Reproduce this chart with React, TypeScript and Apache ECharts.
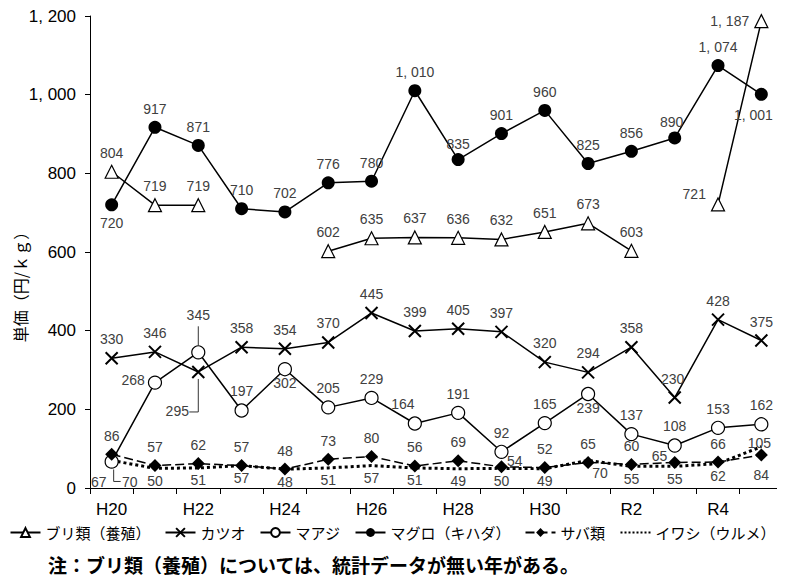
import React, { useEffect, useRef } from "react";
import * as echarts from "echarts";

const categories = ["H20","H21","H22","H23","H24","H25","H26","H27","H28","H29","H30","R1","R2","R3","R4","R5"];
const buri = [804,719,719,null,null,602,635,637,636,632,651,673,603,null,721,1187];
const katsuo = [330,346,295,358,354,370,445,399,405,397,320,294,358,230,428,375];
const maaji = [67,268,345,197,302,205,229,164,191,92,165,239,137,108,153,162];
const maguro = [720,917,871,710,702,776,780,1010,835,901,960,825,856,890,1074,1001];
const saba = [86,57,62,57,48,73,80,56,69,54,52,65,60,65,66,84];
const iwashi = [70,50,51,57,48,51,57,51,49,50,49,70,55,55,62,105];
const yTicks = [0,200,400,600,800,1000,1200];
const seriesNames = ["ブリ類（養殖）", "カツオ", "マアジ", "マグロ（キハダ）", "サバ類", "イワシ（ウルメ）"];

const FONT = "Noto Sans CJK JP";
const NUMFONT = "'Liberation Sans', Arial, sans-serif";
const fmt = (v: number) => v >= 1000 ? Math.floor(v / 1000) + ",\u00a0" + String(v % 1000).padStart(3, "0") : String(v);

type LO = { position?: string; offset?: number[] };
const buildData = (vals: (number | null)[], def: string, over: Record<number, LO>) =>
  vals.map((v, i) => {
    const o = over[i] || {};
    return {
      value: v,
      label: { position: o.position || def, offset: o.offset || [0, 0] },
    };
  });

// leader lines: anchored at a data point, shape given in pixel offsets from it
const leaders = [
  { idx: 2, vals: maaji, pts: [[0, -7], [0, -26]] },
  { idx: 2, vals: katsuo, pts: [[0, 7], [0, 40], [-9, 40]] },
  { idx: 0, vals: iwashi, pts: [[2, 9], [2, 21], [9, 21]] },
];

export default function App() {
  const ref = useRef<HTMLDivElement>(null);
  useEffect(() => {
    const chart = echarts.init(ref.current!, undefined, { renderer: "svg" });
    const label = {
      show: true,
      color: "#404040",
      fontSize: 14,
      fontFamily: NUMFONT,
      distance: 5,
      formatter: (p: any) => fmt(p.value),
    };
    const base = (name: string) => ({
      name,
      type: "line",
      connectNulls: false,
      lineStyle: { color: "#000", width: 1.5 },
      label,
      z: 2,
    });
    chart.setOption({
      animation: false,
      grid: { left: 90, right: 2, top: 16, bottom: 95 },
      xAxis: {
        type: "category",
        data: categories,
        boundaryGap: true,
        axisLine: { lineStyle: { color: "#000", width: 1 } },
        axisTick: { show: true, interval: 0, alignWithLabel: false, length: 6, lineStyle: { color: "#000" } },
        axisLabel: { interval: 1, color: "#000", fontSize: 17, fontFamily: NUMFONT, margin: 13 },
      },
      yAxis: {
        type: "value",
        min: 0,
        max: 1200,
        interval: 200,
        axisLine: { show: true, lineStyle: { color: "#000", width: 1 } },
        axisTick: { show: true, length: 5, lineStyle: { color: "#000" } },
        splitLine: { show: false },
        axisLabel: {
          color: "#000",
          fontSize: 17,
          fontFamily: NUMFONT,
          margin: 14,
          formatter: (v: number) => (yTicks.includes(v) ? fmt(v) : ""),
        },
      },
      legend: {
        bottom: 38,
        left: "center",
        itemGap: 14,
        itemWidth: 30,
        itemHeight: 11,
        textStyle: { color: "#000", fontSize: 15, fontFamily: FONT },
        data: seriesNames,
      },
      graphic: [
        {
          type: "text",
          x: 20,
          y: 283,
          rotation: Math.PI / 2,
          style: {
            text: "単価（円/ｋｇ）",
            fill: "#000",
            fontSize: 16,
            fontFamily: FONT,
            align: "center",
            verticalAlign: "middle",
          },
        },
        {
          type: "text",
          left: 48,
          top: 555,
          style: {
            text: "注：ブリ類（養殖）については、統計データが無い年がある。",
            fill: "#000",
            fontSize: 19,
            fontFamily: FONT,
            fontWeight: "bold",
          },
        },
      ],
      series: [
        {
          ...base(seriesNames[0]),
          symbol: "triangle",
          symbolSize: 13,
          itemStyle: { color: "#fff", borderColor: "#000", borderWidth: 1.2 },
          data: buildData(buri, "top", { 14: { position: "left", offset: [0, -10] }, 15: { position: "left" } }),
        },
        {
          ...base(seriesNames[1]),
          symbol: "path://M0,0L10,10M10,0L0,10",
          symbolSize: 12,
          itemStyle: { color: "#000", borderColor: "#000", borderWidth: 2 },
          data: buildData(katsuo, "top", {
            2: { position: "bottom", offset: [-21, 20] },
            13: { position: "top", offset: [-2, 0] },
          }),
        },
        {
          ...base(seriesNames[2]),
          symbol: "circle",
          symbolSize: 13,
          itemStyle: { color: "#fff", borderColor: "#000", borderWidth: 1.2 },
          data: buildData(maaji, "top", {
            0: { position: "bottom", offset: [-13, 1] },
            1: { position: "left", offset: [2, -3] },
            2: { position: "top", offset: [0, -18] },
            4: { position: "bottom", offset: [0, -5] },
            7: { position: "top", offset: [-12, 0] },
            11: { position: "bottom", offset: [0, -5] },
          }),
        },
        {
          ...base(seriesNames[3]),
          symbol: "circle",
          symbolSize: 13,
          itemStyle: { color: "#000" },
          data: buildData(maguro, "top", {
            0: { position: "bottom" },
            8: { position: "top", offset: [0, 3] },
            13: { position: "top", offset: [-3, 3] },
            15: { position: "bottom", offset: [-8, 2] },
          }),
        },
        {
          ...base(seriesNames[4]),
          symbol: "diamond",
          symbolSize: 13,
          lineStyle: { color: "#000", width: 1.5, type: [9, 4] },
          itemStyle: { color: "#000" },
          data: buildData(saba, "top", {
            9: { position: "right", offset: [-6, -6] },
            13: { position: "left", offset: [4, -6] },
            15: { position: "bottom", offset: [0, 2] },
          }),
        },
        {
          ...base(seriesNames[5]),
          symbol: "circle",
          symbolSize: 1,
          lineStyle: { color: "#000", width: 3, type: "dotted" },
          itemStyle: { color: "rgba(0,0,0,0)" },
          data: buildData(iwashi, "bottom", {
            0: { position: "bottom", offset: [18, 9] },
            11: { position: "bottom", offset: [12, 0] },
            15: { position: "top", offset: [-2, 9] },
          }),
        },
        {
          name: "leaders",
          type: "custom",
          silent: true,
          z: 1,
          data: leaders.map((l, k) => [l.idx, l.vals[l.idx], k]),
          encode: { x: 0, y: 1 },
          renderItem: (params: any, api: any) => {
            const p = api.coord([api.value(0), api.value(1)]);
            const l = leaders[api.value(2)];
            return {
              type: "polyline",
              shape: { points: l.pts.map((d) => [p[0] + d[0], p[1] + d[1]]) },
              style: { stroke: "#333", lineWidth: 1, fill: "none" },
            };
          },
        },
      ],
    });
    return () => chart.dispose();
  }, []);
  return <div ref={ref} style={{ width: 785, height: 583, margin: -8 }} />;
}
